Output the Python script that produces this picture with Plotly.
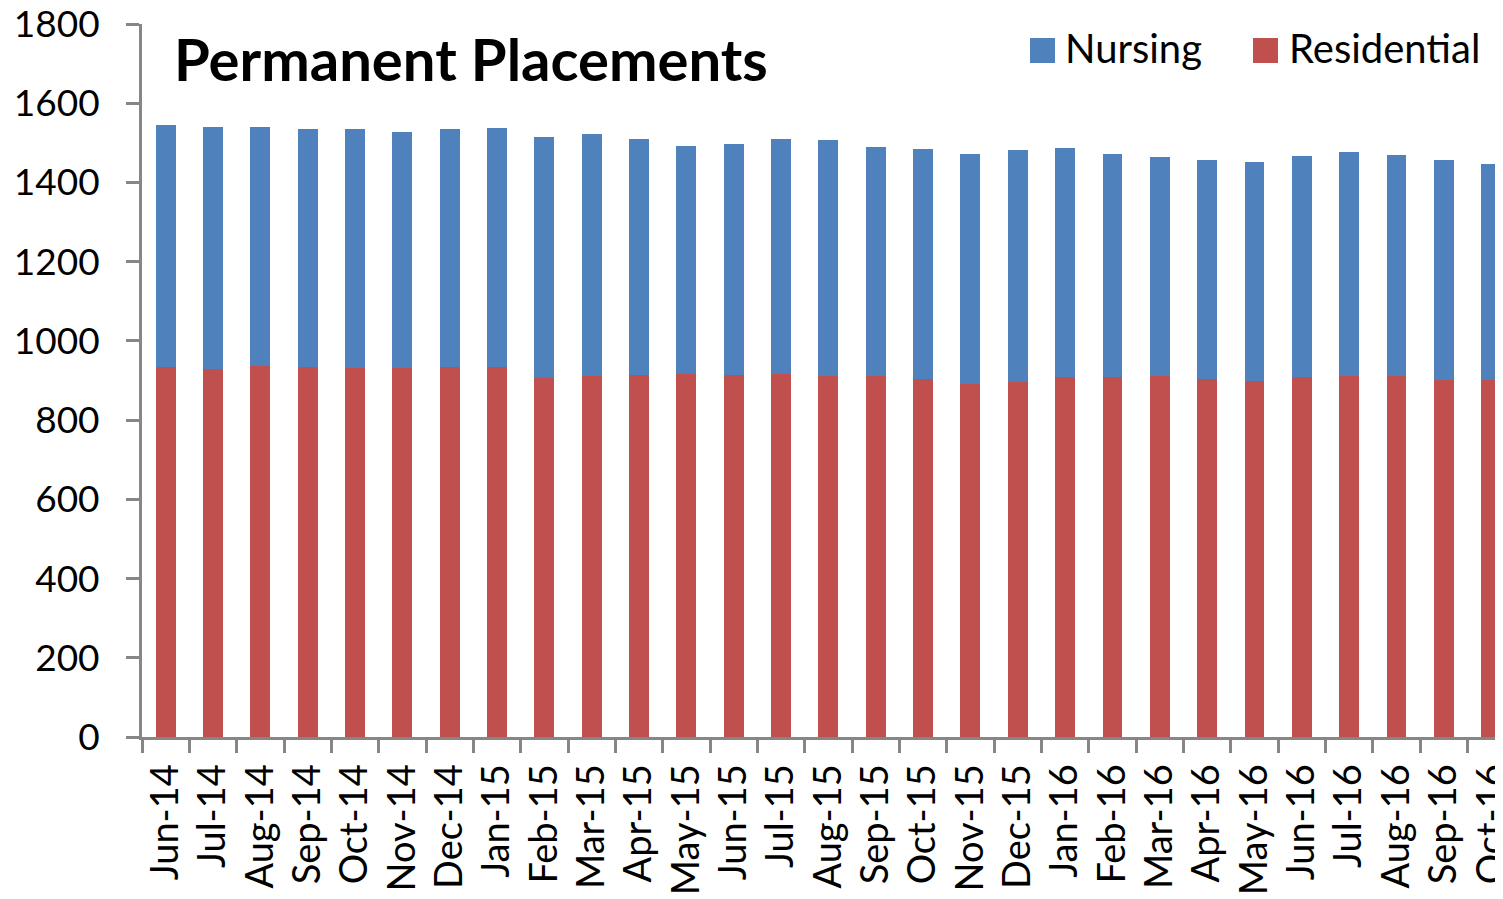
import plotly.graph_objects as go

months = ["Jun-14", "Jul-14", "Aug-14", "Sep-14", "Oct-14", "Nov-14", "Dec-14",
          "Jan-15", "Feb-15", "Mar-15", "Apr-15", "May-15", "Jun-15", "Jul-15",
          "Aug-15", "Sep-15", "Oct-15", "Nov-15", "Dec-15", "Jan-16", "Feb-16",
          "Mar-16", "Apr-16", "May-16", "Jun-16", "Jul-16", "Aug-16", "Sep-16",
          "Oct-16"]

residential = [933, 928, 936, 933, 931, 931, 933, 933, 907, 912, 913, 916, 913, 916,
               912, 911, 903, 890, 897, 908, 908, 912, 905, 900, 908, 912, 912, 901,
               902]

total = [1545, 1540, 1540, 1534, 1534, 1527, 1536, 1538, 1515, 1522, 1509, 1491, 1496,
         1509, 1507, 1489, 1484, 1472, 1482, 1487, 1472, 1464, 1457, 1452, 1468, 1477,
         1469, 1456, 1447]

nursing = [t - r for t, r in zip(total, residential)]

y_ticks = [0, 200, 400, 600, 800, 1000, 1200, 1400, 1600, 1800]

BLUE = "#4F81BD"
RED = "#C0504D"
AXIS = "#868686"
FONT = "Lato"

# page body has an 8px margin; the figure is sized/offset to compensate
OFF = 8
W, H = 1503 - OFF, 899 - OFF
L, T, PW, PH = 142 - OFF, 24 - OFF, 1361, 713   # plot area in figure coords


def px(x):  # screen x -> paper
    return (x - OFF - L) / PW


def py(y):  # screen y -> paper
    return 1 - (y - OFF - T) / PH


fig = go.Figure()
fig.add_trace(go.Bar(x=months, y=residential, name="Residential",
                     marker=dict(color=RED, line=dict(width=0)), showlegend=False))
fig.add_trace(go.Bar(x=months, y=nursing, name="Nursing",
                     marker=dict(color=BLUE, line=dict(width=0)), showlegend=False))

fig.update_layout(
    width=W, height=H,
    barmode="stack", bargap=0.58,
    margin=dict(l=L, r=W - L - PW, t=T, b=H - T - PH, autoexpand=False),
    paper_bgcolor="white", plot_bgcolor="white",
    font=dict(family=FONT, size=37, color="black"),
    xaxis=dict(
        range=[-0.5, 28.25], type="category", automargin=False,
        showline=True, linecolor=AXIS, linewidth=3,
        ticks="outside", ticklen=13, tickwidth=3, tickcolor=AXIS,
        tickson="boundaries", tickangle=-90, showgrid=False,
        ticklabeloverflow="allow", ticklabelstandoff=9,
        tickfont=dict(family=FONT, size=38),
    ),
    yaxis=dict(
        range=[0, 1800], tickvals=y_ticks, automargin=False,
        showline=True, linecolor=AXIS, linewidth=3,
        ticks="outside", ticklen=13, tickwidth=3, tickcolor=AXIS,
        showgrid=False, zeroline=False, ticklabelstandoff=19,
        ticklabeloverflow="allow",
        tickfont=dict(family=FONT, size=37),
    ),
    annotations=[
        dict(text="<b>Permanent Placements</b>", xref="paper", yref="paper",
             x=px(172), y=py(59), xanchor="left", yanchor="middle",
             showarrow=False, font=dict(family=FONT, size=58, color="black")),
        dict(text="Nursing", xref="paper", yref="paper",
             x=px(1063), y=py(48), xanchor="left", yanchor="middle",
             showarrow=False, font=dict(family=FONT, size=40, color="black")),
        dict(text="Residential", xref="paper", yref="paper",
             x=px(1287), y=py(48), xanchor="left", yanchor="middle",
             showarrow=False, font=dict(family=FONT, size=40, color="black")),
    ],
    shapes=[
        dict(type="rect", xref="paper", yref="paper",
             x0=px(1030), x1=px(1055), y0=py(63), y1=py(38),
             fillcolor=BLUE, line=dict(width=0)),
        dict(type="rect", xref="paper", yref="paper",
             x0=px(1253), x1=px(1278), y0=py(63), y1=py(38),
             fillcolor=RED, line=dict(width=0)),
    ],
)

fig.write_html("out.html")
